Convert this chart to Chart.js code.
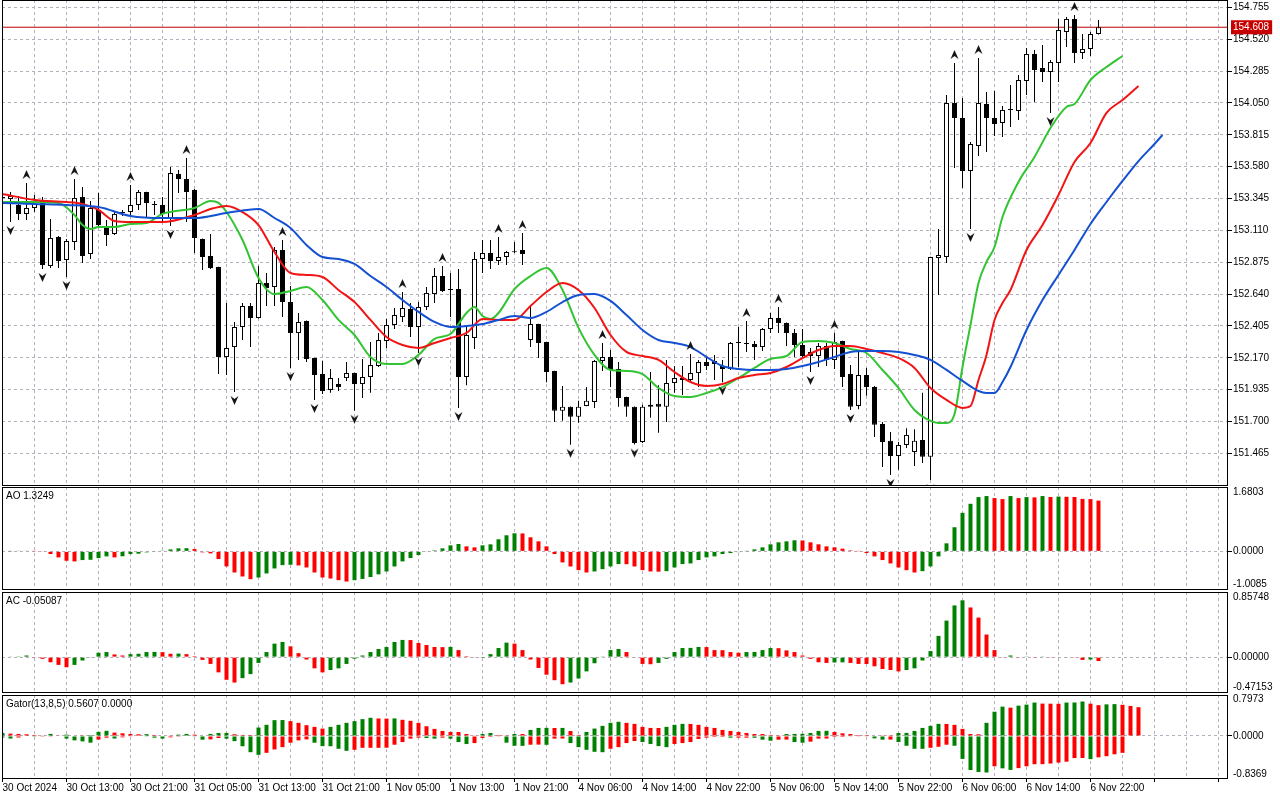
<!DOCTYPE html>
<html>
<head>
<meta charset="utf-8">
<title>USDJPY H1 - Alligator, AO, AC, Gator</title>
<script src="https://cdn.jsdelivr.net/npm/chart.js@4"></script>
<style>
  html, body { margin: 0; padding: 0; background: #fff; }
  #wrap { position: relative; width: 1280px; height: 800px; overflow: hidden; }
  #wrap canvas { position: absolute; left: 0; top: 0; }
  .pane-label { position: absolute; left: 6px; font: 10px "Liberation Sans", Arial, sans-serif; color: #000; z-index: 5; line-height: 12px; }
</style>
</head>
<body>
<div id="wrap">
  <canvas id="mainPane" width="1280" height="800"></canvas>
  <canvas id="aoPane" width="1280" height="800"></canvas>
  <canvas id="acPane" width="1280" height="800"></canvas>
  <canvas id="gatorPane" width="1280" height="800"></canvas>
  <div class="pane-label" style="top:490px">AO 1.3249</div>
  <div class="pane-label" style="top:595px">AC -0.05087</div>
  <div class="pane-label" style="top:698px">Gator(13,8,5) 0.5607 0.0000</div>
</div>
<script>
// ---- data ----
const priceTicks = [151.465, 151.700, 151.935, 152.170, 152.405, 152.640, 152.875, 153.110, 153.345, 153.580, 153.815, 154.050, 154.285, 154.520, 154.755];
const lastPrice = 154.608;
const timeLabels = ['30 Oct 2024', '30 Oct 13:00', '30 Oct 21:00', '31 Oct 05:00', '31 Oct 13:00', '31 Oct 21:00',
  '1 Nov 05:00', '1 Nov 13:00', '1 Nov 21:00', '4 Nov 06:00', '4 Nov 14:00', '4 Nov 22:00',
  '5 Nov 06:00', '5 Nov 14:00', '5 Nov 22:00', '6 Nov 06:00', '6 Nov 14:00', '6 Nov 22:00'];

const opens = [153.349,153.341,153.297,153.231,153.275,153.334,152.847,153.061,152.891,153.024,
  153.356,152.935,153.260,153.142,153.083,153.238,153.245,153.297,153.393,153.297,
  153.297,153.201,153.525,153.488,153.407,153.046,152.921,152.839,152.175,152.249,
  152.397,152.552,152.463,152.722,152.692,152.965,152.581,152.352,152.441,152.168,
  152.050,151.933,151.976,152.020,152.057,151.976,152.028,152.109,152.294,152.412,
  152.470,152.530,152.397,152.544,152.640,152.773,152.670,152.677,152.028,152.316,
  152.899,152.942,152.884,152.913,152.955,152.965,152.301,152.419,152.286,152.072,
  151.779,151.808,151.734,151.815,151.844,152.146,152.175,152.087,151.881,151.808,
  151.549,151.808,151.830,151.808,151.984,152.020,152.006,152.057,152.138,152.146,
  152.109,152.087,152.279,152.279,152.272,152.249,152.382,152.463,152.426,152.352,
  152.264,152.212,152.183,152.257,152.153,152.294,152.050,151.815,152.043,151.954,
  151.682,151.557,151.446,151.527,151.475,151.564,151.439,152.906,152.913,154.049,
  153.939,153.548,153.732,154.042,153.939,153.902,154.005,153.990,154.212,154.411,
  154.307,154.278,154.344,154.573,154.669,154.418,154.448,154.558];
const highs = [153.386,153.393,153.364,153.459,153.371,153.356,153.194,153.068,153.046,153.488,
  153.429,153.327,153.386,153.186,153.253,153.260,153.445,153.408,153.395,153.327,
  153.356,153.577,153.555,153.643,153.415,153.050,153.083,152.842,152.574,152.434,
  152.574,152.574,152.847,152.795,152.987,153.039,152.700,152.500,152.445,152.170,
  152.146,152.087,152.020,152.138,152.060,152.160,152.286,152.352,152.456,152.537,
  152.655,152.574,152.581,152.692,152.832,152.847,152.795,152.825,152.412,152.950,
  153.039,153.039,153.061,152.957,153.024,153.090,152.544,152.420,152.288,152.074,
  151.962,151.810,151.852,151.955,152.153,152.279,152.227,152.138,151.883,151.810,
  151.823,152.065,151.968,152.153,152.109,152.109,152.197,152.153,152.175,152.190,
  152.153,152.286,152.397,152.441,152.294,152.390,152.500,152.544,152.430,152.382,
  152.382,152.242,152.279,152.279,152.352,152.296,152.116,152.212,152.094,151.962,
  151.697,151.623,151.549,151.650,151.643,151.911,152.915,153.120,154.108,154.344,
  154.086,153.762,154.381,154.130,154.138,154.027,154.182,154.256,154.455,154.440,
  154.477,154.366,154.669,154.684,154.698,154.558,154.573,154.661];
const lows = [153.312,153.171,153.186,153.186,153.245,152.825,152.832,152.832,152.766,152.965,
  152.869,152.898,153.142,152.994,153.076,153.216,153.223,153.260,153.208,153.223,
  153.171,153.142,153.386,153.171,152.942,152.817,152.825,152.050,152.043,151.918,
  152.301,152.249,152.460,152.552,152.552,152.470,152.094,152.153,152.138,151.859,
  151.903,151.911,151.925,151.998,151.779,151.874,151.911,152.102,152.242,152.382,
  152.434,152.323,152.205,152.522,152.574,152.655,152.470,151.800,151.968,152.234,
  152.795,152.825,152.854,152.854,152.942,152.854,152.249,152.168,151.990,151.697,
  151.705,151.528,151.690,151.812,151.800,152.072,151.954,151.808,151.734,151.530,
  151.542,151.727,151.616,151.697,151.911,151.896,151.984,151.954,152.079,152.006,
  151.990,152.079,152.102,152.212,152.153,152.220,152.352,152.352,152.257,152.175,
  152.160,152.065,152.102,152.109,152.087,151.954,151.785,151.790,151.889,151.586,
  151.365,151.306,151.343,151.505,151.372,151.394,151.268,152.632,152.869,153.570,
  153.422,153.120,153.658,153.688,153.806,153.798,153.872,153.924,154.108,154.057,
  154.204,153.975,154.204,154.462,154.344,154.374,154.396,154.555];
const closes = [153.356,153.364,153.231,153.275,153.304,152.854,153.054,152.884,153.031,153.349,
  152.921,153.275,153.149,153.076,153.231,153.245,153.297,153.393,153.312,153.300,
  153.231,153.532,153.488,153.393,153.054,152.913,152.832,152.175,152.242,152.397,
  152.552,152.463,152.722,152.685,152.965,152.581,152.352,152.434,152.160,152.043,
  151.925,152.020,151.954,152.057,151.976,152.028,152.116,152.301,152.412,152.485,
  152.537,152.397,152.544,152.648,152.773,152.662,152.672,152.028,152.338,152.899,
  152.942,152.884,152.913,152.950,152.948,152.935,152.419,152.279,152.065,151.779,
  151.808,151.734,151.808,151.852,152.146,152.175,152.079,151.874,151.808,151.542,
  151.808,151.823,151.808,151.984,152.020,152.006,152.057,152.138,152.109,152.124,
  152.087,152.279,152.282,152.272,152.249,152.382,152.463,152.426,152.352,152.264,
  152.183,152.183,152.257,152.153,152.286,152.028,151.808,152.043,151.954,151.675,
  151.549,151.446,151.527,151.601,151.557,151.439,152.913,152.928,154.049,153.939,
  153.548,153.747,154.049,153.939,153.894,153.998,153.998,154.219,154.411,154.293,
  154.278,154.352,154.588,154.669,154.418,154.448,154.558,154.608];

// bars carrying a fractal arrow
const upFractals = [3, 9, 16, 23, 35, 50, 55, 62, 65, 75, 86, 93, 97, 104, 119, 122, 134];
const downFractals = [1, 5, 8, 21, 29, 36, 39, 44, 52, 57, 71, 79, 90, 101, 106, 111, 116, 121, 131];

// alligator lines, sampled at the listed bars
const jawBars = [0,4,8,12,16,20,24,28,32,34,36,38,40,42,44,46,48,50,52,54,56,58,60,62,64,66,68,70,72,74,
  76,78,80,82,84,86,88,90,92,94,96,98,100,102,104,106,108,110,112,114,116,118,120,122,123,124,125,126,128,130,
  132,134,136,138,140,142,144,145];
const jaw = [153.312,153.304,153.297,153.282,153.216,153.201,153.201,153.238,153.267,153.201,
  153.127,153.002,152.913,152.899,152.862,152.773,152.692,152.596,152.508,152.434,
  152.397,152.404,152.419,152.449,152.478,152.463,152.508,152.581,152.633,152.640,
  152.589,152.485,152.375,152.301,152.279,152.249,152.176,152.109,152.087,152.080,
  152.080,152.087,152.109,152.139,152.176,152.213,152.220,152.220,152.213,152.191,
  152.154,152.080,151.999,151.925,151.910,151.910,151.991,152.102,152.375,152.596,
  152.781,152.965,153.157,153.319,153.474,153.621,153.747,153.813];
const teethBars = [0,4,8,10,12,14,16,20,24,26,28,30,32,34,36,38,40,42,44,46,48,50,52,54,56,58,60,62,64,66,
  68,70,72,74,76,78,80,82,84,86,88,90,92,94,96,98,100,102,104,106,108,110,112,114,116,118,120,121,122,123,
  124,125,126,128,130,132,134,136,138,140,142];
const teeth = [153.378,153.334,153.319,153.304,153.260,153.179,153.171,153.171,153.223,153.267,
  153.290,153.245,153.149,152.950,152.795,152.781,152.766,152.670,152.581,152.449,
  152.323,152.264,152.242,152.279,152.316,152.353,152.456,152.449,152.449,152.552,
  152.655,152.722,152.670,152.537,152.338,152.213,152.183,152.154,152.065,151.991,
  151.962,151.976,152.021,152.043,152.058,152.102,152.168,152.227,152.257,152.257,
  152.235,152.205,152.168,152.095,151.947,151.859,151.800,151.814,152.006,152.191,
  152.449,152.574,152.670,152.965,153.149,153.371,153.614,153.754,153.976,154.071,
  154.175];
const lipsBars = [0,4,7,9,10,11,12,14,16,18,20,24,26,27,28,30,32,34,36,38,40,42,44,46,48,50,52,54,56,58,
  59,60,61,62,64,66,68,70,72,74,76,78,80,82,84,86,88,90,92,94,96,98,100,102,104,106,108,110,112,114,
  116,117,118,119,120,121,122,123,124,125,127,129,131,133,134,136,138,140];
const lips = [153.319,153.319,153.312,153.223,153.149,153.120,153.135,153.135,153.157,153.164,
  153.231,153.275,153.326,153.312,153.245,153.039,152.759,152.640,152.663,152.692,
  152.596,152.449,152.338,152.176,152.124,152.124,152.191,152.309,152.345,152.500,
  152.545,152.478,152.456,152.500,152.677,152.773,152.832,152.670,152.390,152.191,
  152.080,152.073,152.050,151.947,151.888,151.881,151.910,151.954,152.021,152.095,
  152.161,152.183,152.286,152.294,152.279,152.235,152.205,152.080,151.947,151.785,
  151.704,151.689,151.689,151.755,152.102,152.412,152.722,152.877,152.987,153.208,
  153.467,153.651,153.865,154.020,154.042,154.219,154.315,154.396];

const ao = [0,0.004,0.008,0.01,0.006,-0.01,-0.07,-0.157,-0.245,-0.262,
  -0.227,-0.219,-0.175,-0.131,-0.157,-0.128,-0.07,-0.061,-0.026,-0.009,
  0.018,0.052,0.079,0.083,0.061,-0.026,-0.052,-0.201,-0.394,-0.551,
  -0.656,-0.726,-0.682,-0.577,-0.446,-0.359,-0.35,-0.367,-0.42,-0.551,
  -0.682,-0.709,-0.752,-0.787,-0.752,-0.72,-0.67,-0.6,-0.525,-0.394,
  -0.262,-0.175,-0.096,-0.01,0.026,0.079,0.157,0.192,0.131,0.105,
  0.157,0.184,0.315,0.42,0.472,0.468,0.367,0.262,0.131,-0.07,
  -0.289,-0.394,-0.49,-0.551,-0.525,-0.464,-0.394,-0.332,-0.335,-0.394,
  -0.49,-0.525,-0.53,-0.516,-0.42,-0.332,-0.315,-0.227,-0.157,-0.131,
  -0.07,-0.044,-0.02,0.005,0.052,0.105,0.184,0.236,0.262,0.289,
  0.285,0.236,0.184,0.131,0.105,0.07,0.026,0.005,-0.044,-0.131,
  -0.227,-0.315,-0.42,-0.49,-0.551,-0.516,-0.394,-0.131,0.21,0.63,
  1.006,1.242,1.417,1.444,1.391,1.365,1.444,1.391,1.417,1.41,
  1.444,1.42,1.43,1.425,1.42,1.37,1.365,1.3249];
const ac = [0,0.005,0.01,0.022,-0.009,-0.022,-0.067,-0.102,-0.133,-0.102,
  -0.044,-0.004,0.058,0.067,0.036,0.022,0.04,0.045,0.067,0.069,
  0.066,0.045,0.047,0.04,0.013,-0.036,-0.089,-0.2,-0.298,-0.334,
  -0.276,-0.223,-0.076,0.067,0.178,0.2,0.142,0.053,-0.031,-0.147,
  -0.2,-0.169,-0.147,-0.089,-0.02,0.022,0.067,0.107,0.134,0.2,
  0.227,0.225,0.187,0.16,0.134,0.132,0.135,0.093,0.013,-0.004,
  -0.002,0.04,0.12,0.191,0.178,0.093,-0.031,-0.142,-0.231,-0.303,
  -0.356,-0.334,-0.28,-0.187,-0.08,0.009,0.093,0.107,0.067,-0.005,
  -0.089,-0.093,-0.076,-0.022,0.067,0.12,0.122,0.134,0.133,0.093,
  0.092,0.067,0.058,0.067,0.068,0.093,0.12,0.118,0.089,0.067,
  0.022,-0.022,-0.067,-0.076,-0.07,-0.068,-0.076,-0.089,-0.09,-0.12,
  -0.156,-0.169,-0.187,-0.169,-0.147,-0.044,0.08,0.28,0.481,0.681,
  0.748,0.654,0.521,0.298,0.093,-0.004,0.022,-0.009,0.009,-0.004,
  0.009,-0.009,-0.007,-0.005,-0.009,-0.036,-0.031,-0.05087];
const gatorUp = [0.06,0.045,0.04,0.033,0.02,0.013,0.04,0.013,0.026,0.01,
  0.005,0.02,0.08,0.1,0.066,0.052,0.04,0.033,0.035,0.02,
  0.01,0.007,0.026,0.04,0.026,0.01,0.04,0.059,0.06,0.033,
  0.02,0.02,0.164,0.217,0.308,0.31,0.289,0.256,0.21,0.177,
  0.144,0.177,0.217,0.256,0.289,0.328,0.354,0.341,0.338,0.342,
  0.315,0.295,0.256,0.19,0.138,0.098,0.079,0.078,0.039,0.013,
  0.039,0.059,0.02,0.005,0.039,0.038,0.118,0.157,0.158,0.155,
  0.157,0.098,0.02,0.079,0.144,0.197,0.256,0.276,0.256,0.236,
  0.177,0.157,0.156,0.177,0.217,0.236,0.234,0.217,0.177,0.157,
  0.118,0.098,0.079,0.059,0.039,0.038,0.02,0.005,0.039,0.04,
  0.042,0.059,0.098,0.1,0.079,0.052,0.039,0.02,0.018,0.01,
  0.005,0.004,0.059,0.06,0.098,0.157,0.197,0.236,0.234,0.217,
  0.138,0.039,0.033,0.256,0.472,0.571,0.551,0.59,0.61,0.65,
  0.63,0.628,0.626,0.65,0.652,0.67,0.628,0.6,0.615,0.62,
  0.607,0.585,0.5607];
const gatorDown = [-0.03,-0.05,-0.03,-0.01,-0.015,-0.015,-0.005,-0.01,-0.05,-0.085,
  -0.105,-0.13,-0.07,-0.033,-0.05,-0.026,-0.013,-0.01,-0.013,-0.033,
  -0.05,-0.026,-0.015,-0.01,-0.013,-0.072,-0.066,-0.04,-0.052,-0.1,
  -0.2,-0.315,-0.367,-0.328,-0.262,-0.217,-0.131,-0.085,-0.066,-0.131,
  -0.197,-0.2,-0.249,-0.289,-0.269,-0.23,-0.23,-0.23,-0.228,-0.17,
  -0.118,-0.052,-0.033,-0.04,-0.052,-0.033,-0.052,-0.118,-0.157,-0.138,
  -0.04,-0.02,-0.013,-0.13,-0.19,-0.192,-0.17,-0.168,-0.172,-0.052,
  -0.05,-0.138,-0.217,-0.269,-0.308,-0.315,-0.249,-0.217,-0.138,-0.098,
  -0.118,-0.157,-0.197,-0.217,-0.157,-0.138,-0.118,-0.059,-0.033,-0.02,
  -0.02,-0.033,-0.033,-0.033,-0.035,-0.072,-0.092,-0.072,-0.07,-0.118,
  -0.131,-0.11,-0.052,-0.05,-0.02,-0.02,-0.013,-0.007,-0.007,-0.046,
  -0.072,-0.07,-0.118,-0.19,-0.249,-0.25,-0.23,-0.21,-0.17,-0.19,
  -0.446,-0.663,-0.7,-0.71,-0.59,-0.63,-0.66,-0.625,-0.59,-0.55,
  -0.548,-0.536,-0.518,-0.5,-0.43,-0.428,-0.45,-0.415,-0.394,-0.356,
  -0.328];

// right-axis labels of the sub windows: top, zero, bottom
const aoScale = [1.6803, 0, -1.0085];
const acScale = [0.85748, 0, -0.47153];
const gatorScale = [0.7973, 0, -0.8369];

// ---- styling ----
const GRID = '#b7adbd';
const GREEN = '#008000';
const RED = '#ff0000';
const NONE = 'rgba(0,0,0,0)';
const FONT = { family: '"Liberation Sans", Arial, sans-serif', size: 10 };
const X_MIN = -0.0625, X_MAX = 153.1875;

Chart.defaults.font = FONT;
Chart.defaults.color = '#000';

const frame = {
  id: 'frame',
  afterDraw(chart) {
    const a = chart.chartArea, ctx = chart.ctx;
    ctx.save();
    ctx.strokeStyle = '#000';
    ctx.lineWidth = 1;
    ctx.setLineDash([]);
    ctx.strokeRect(a.left + 0.5, a.top + 0.5, a.right - a.left - 1, a.bottom - a.top - 1);
    ctx.restore();
  }
};

function xScale(withLabels) {
  return {
    type: 'linear', min: X_MIN, max: X_MAX, offset: false,
    afterBuildTicks: s => {
      const t = [];
      for (let v = 0; v <= X_MAX; v += 4) t.push({ value: v });
      s.ticks = t;
    },
    afterFit: s => { s.height = withLabels ? 21 : 0; s.paddingLeft = 0; s.paddingRight = 0; },
    grid: {
      color: GRID, offset: false, drawTicks: withLabels, tickLength: 3, tickBorderDash: [],
      tickColor: c => (c.tick && c.tick.value % 8 === 0) ? '#000' : NONE
    },
    border: { display: false, dash: [3, 3] },
    ticks: {
      display: withLabels, autoSkip: false, maxRotation: 0, minRotation: 0, align: 'start', padding: 0,
      color: '#000', font: FONT,
      callback: v => (v % 8 === 0 && timeLabels[v / 8]) ? timeLabels[v / 8] : ''
    }
  };
}

function subY(range, digits) {
  const top = range[0], bottom = range[2];
  return {
    position: 'right', min: bottom, max: top,
    afterBuildTicks: s => {
      const e = (top - bottom) * 0.055;
      s.ticks = [{ value: top - e }, { value: 0 }, { value: bottom + e }];
    },
    afterFit: s => { s.width = 52; s.paddingTop = 0; s.paddingBottom = 0; },
    grid: {
      color: c => c.tick && c.tick.value === 0 ? GRID : NONE,
      tickLength: 4, tickBorderDash: [],
      tickColor: c => c.tick && c.tick.value === 0 ? '#000' : NONE
    },
    border: { display: false, dash: [3, 3] },
    ticks: { autoSkip: false, padding: 1, font: FONT, color: '#000', callback: (v, i) => range[i].toFixed(digits) }
  };
}

function trendColors(vals, f) {
  f = f || (v => v);
  return vals.map((v, i) => (i === 0 || f(v) > f(vals[i - 1])) ? GREEN : RED);
}

function hist(vals, colors) {
  return {
    type: 'bar', data: vals.map((v, i) => ({ x: i, y: v })),
    backgroundColor: colors, borderWidth: 0, barThickness: 4, grouped: false, inflateAmount: 0
  };
}

function lineSet(bars, vals, color) {
  return {
    type: 'line', data: bars.map((b, k) => ({ x: b, y: vals[k] })),
    borderColor: color, borderWidth: 2, pointRadius: 0, cubicInterpolationMode: 'monotone', order: 1
  };
}

// fractal arrowhead, offset inside a tall transparent image so it sits clear of the wick
function arrowImage(up) {
  const c = document.createElement('canvas');
  c.width = 11; c.height = 30;
  const g = c.getContext('2d');
  g.fillStyle = '#141414';
  g.beginPath();
  if (up) { g.moveTo(5.5, 2); g.lineTo(9.5, 11); g.lineTo(5.5, 8); g.lineTo(1.5, 11); }
  else { g.moveTo(5.5, 28); g.lineTo(9.5, 19); g.lineTo(5.5, 22); g.lineTo(1.5, 19); }
  g.closePath();
  g.fill();
  return c;
}

function pane(id, top, bottom, datasets, y, withLabels) {
  return new Chart(document.getElementById(id), {
    type: 'bar',
    data: { datasets },
    options: {
      responsive: false, animation: false, devicePixelRatio: 1, events: [],
      layout: { autoPadding: false, padding: { top: top, bottom: withLabels ? 0 : 800 - bottom, left: 2, right: 0 } },
      plugins: { legend: { display: false }, tooltip: { enabled: false } },
      scales: { x: xScale(withLabels), y: y }
    },
    plugins: [frame]
  });
}

// ---- main window: candles, alligator, fractals ----
const idx = opens.map((_, i) => i);
const bull = idx.map(i => closes[i] >= opens[i]);

pane('mainPane', 0, 486, [
  {
    type: 'line', data: [{ x: X_MIN, y: lastPrice }, { x: X_MAX, y: lastPrice }],
    borderColor: '#c00000', borderWidth: 1, pointRadius: 0, order: 5
  },
  {
    type: 'bar', data: idx.map(i => ({ x: i, y: [lows[i], highs[i]] })),
    backgroundColor: '#000', borderWidth: 0, barThickness: 1, grouped: false, inflateAmount: 0, order: 4
  },
  {
    type: 'bar', data: idx.map(i => ({ x: i, y: [Math.min(opens[i], closes[i]), Math.max(opens[i], closes[i])] })),
    backgroundColor: idx.map(i => bull[i] ? '#fff' : '#000'), borderColor: '#000', borderWidth: 1,
    borderSkipped: false, barThickness: 5, minBarLength: 1, grouped: false, inflateAmount: 0, order: 3
  },
  lineSet(jawBars, jaw, '#1450d2'),
  lineSet(teethBars, teeth, '#f21414'),
  lineSet(lipsBars, lips, '#32c432'),
  {
    type: 'scatter', data: upFractals.map(i => ({ x: i, y: highs[i] })),
    pointStyle: arrowImage(true), pointRadius: 5, order: 0
  },
  {
    type: 'scatter', data: downFractals.map(i => ({ x: i, y: lows[i] })),
    pointStyle: arrowImage(false), pointRadius: 5, order: 0
  }
], {
  position: 'right', min: 151.224, max: 154.809,
  afterBuildTicks: s => { s.ticks = priceTicks.concat([lastPrice]).map(v => ({ value: v })); },
  afterFit: s => { s.width = 52; s.paddingTop = 0; s.paddingBottom = 0; },
  grid: {
    color: c => c.tick && c.tick.value === lastPrice ? NONE : GRID,
    tickLength: 4, tickBorderDash: [],
    tickColor: c => c.tick && c.tick.value === lastPrice ? NONE : '#000'
  },
  border: { display: false, dash: [3, 3] },
  ticks: {
    autoSkip: false, padding: 1, font: FONT,
    color: c => c.tick && c.tick.value === lastPrice ? '#fff' : '#000',
    callback: v => v.toFixed(3),
    showLabelBackdrop: c => !!(c.tick && c.tick.value === lastPrice),
    backdropColor: '#c80000',
    backdropPadding: { top: 1, bottom: 1, left: 2, right: 3 }
  }
}, false);

// ---- Awesome Oscillator ----
pane('aoPane', 487, 590, [hist(ao, trendColors(ao))], subY(aoScale, 4), false);

// ---- Accelerator Oscillator ----
pane('acPane', 592, 693, [hist(ac, trendColors(ac))], subY(acScale, 5), false);

// ---- Gator Oscillator ----
pane('gatorPane', 695, 779, [
  hist(gatorUp, trendColors(gatorUp)),
  hist(gatorDown, trendColors(gatorDown, Math.abs))
], subY(gatorScale, 4), true);
</script>
</body>
</html>
